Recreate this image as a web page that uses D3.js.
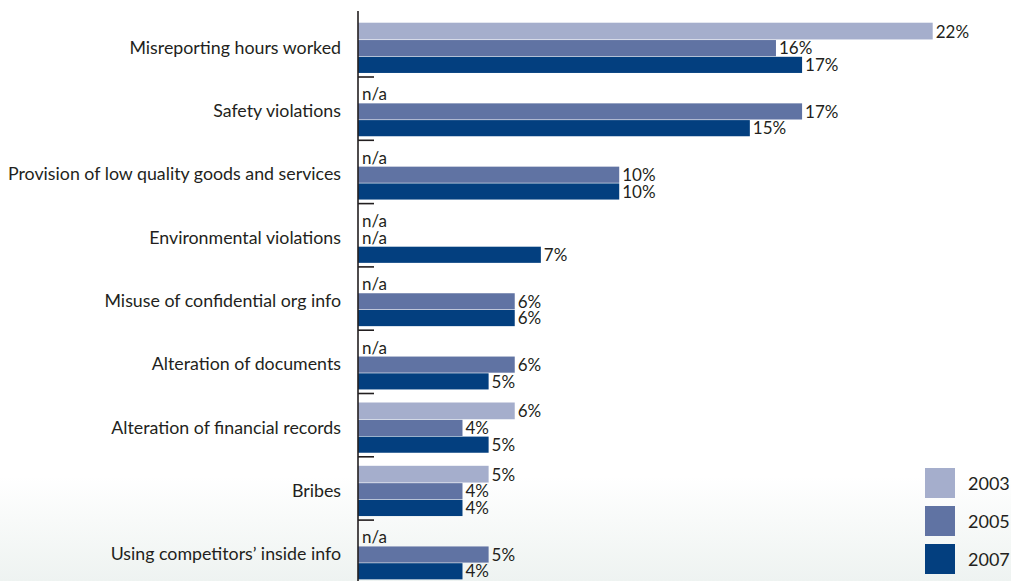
<!DOCTYPE html>
<html><head><meta charset="utf-8">
<script src="https://cdn.jsdelivr.net/npm/d3@7/dist/d3.min.js"></script>
<style>html,body{margin:0;padding:0;background:#fff;}svg{display:block;}</style>
</head><body>
<svg id="chart" width="1011" height="581"></svg>
<script>
const categories = ["Misreporting hours worked","Safety violations","Provision of low quality goods and services","Environmental violations","Misuse of confidential org info","Alteration of documents","Alteration of financial records","Bribes","Using competitors\u2019 inside info"];
const years = ["2003","2005","2007"];
const values2003 = [22, null, null, null, null, null, 6, 5, null];
const values2005 = [16, 17, 10, null, 6, 6, 4, 4, 5];
const values2007 = [17, 15, 10, 7, 6, 5, 5, 4, 4];
const colors = ["#a5aecc","#6073a3","#033f7f"];

const series = [values2003, values2005, values2007];
const W = 1011, H = 581;
const svg = d3.select("#chart");
const font = "Lato, 'Open Sans', sans-serif";

// background gradient
const defs = svg.append("defs");
const grad = defs.append("linearGradient").attr("id","bg").attr("x1",0).attr("y1",0).attr("x2",0).attr("y2",1);
grad.append("stop").attr("offset","0.82").attr("stop-color","#ffffff");
grad.append("stop").attr("offset","1").attr("stop-color","#eef3f1");
svg.append("rect").attr("width",W).attr("height",H).attr("fill","url(#bg)");

const x0 = 358;
const x = d3.scaleLinear().domain([0, 22]).range([x0, 932.7]);
const y = d3.scaleBand().domain(categories).range([13.7, 13.7 + 63.3*9]).paddingInner(0).paddingOuter(0);
const slot = 16.75, offset = 9;

// bars
categories.forEach((c, i) => {
  const g = svg.append("g");
  series.forEach((s, k) => {
    const v = s[i];
    const top = y(c) + offset + k*slot;
    if (v == null) {
      g.append("text").attr("x", x0 + 4).attr("y", top + slot/2 + 6)
        .attr("font-family", font).attr("font-size", 17).attr("fill", "#231f20").text("n/a");
    } else {
      g.append("rect").attr("x", x(0)).attr("y", top + (k>0?0.6:0)).attr("width", x(v) - x(0)).attr("height", slot - (k>0?0.6:0))
        .attr("fill", colors[k]);
      g.append("text").attr("x", x(v) + 3).attr("y", top + slot/2 + 6.5)
        .attr("font-family", font).attr("font-size", 17).attr("fill", "#231f20").text(v + "%");
    }
  });
  // category label
  svg.append("text").attr("x", 341).attr("y", y(c) + offset + slot*1.5 + 6)
    .attr("text-anchor","end").attr("font-family", font).attr("font-size", 17.8).attr("fill","#231f20").text(c);
});

// axis line and ticks
const axis = d3.axisLeft(y).tickSize(0).tickFormat("");
const ag = svg.append("g").attr("transform", `translate(${x0},0)`).call(axis);
ag.select(".domain").remove();
svg.append("line").attr("x1", x0).attr("x2", x0).attr("y1", 11).attr("y2", H).attr("stroke","#231f20").attr("stroke-width",1.6);
categories.slice(1).forEach(c => {
  svg.append("line").attr("x1", x0).attr("x2", x0 + 16).attr("y1", y(c)).attr("y2", y(c)).attr("stroke","#231f20").attr("stroke-width",1.6);
});

// legend
years.forEach((yr, k) => {
  const ly = 468 + k*38;
  svg.append("rect").attr("x", 925).attr("y", ly).attr("width", 30).attr("height", 30).attr("fill", colors[k]);
  svg.append("text").attr("x", 968).attr("y", ly + 21.5).attr("font-family", font).attr("font-size", 18).attr("fill","#231f20").text(yr);
});
</script>
</body></html>
